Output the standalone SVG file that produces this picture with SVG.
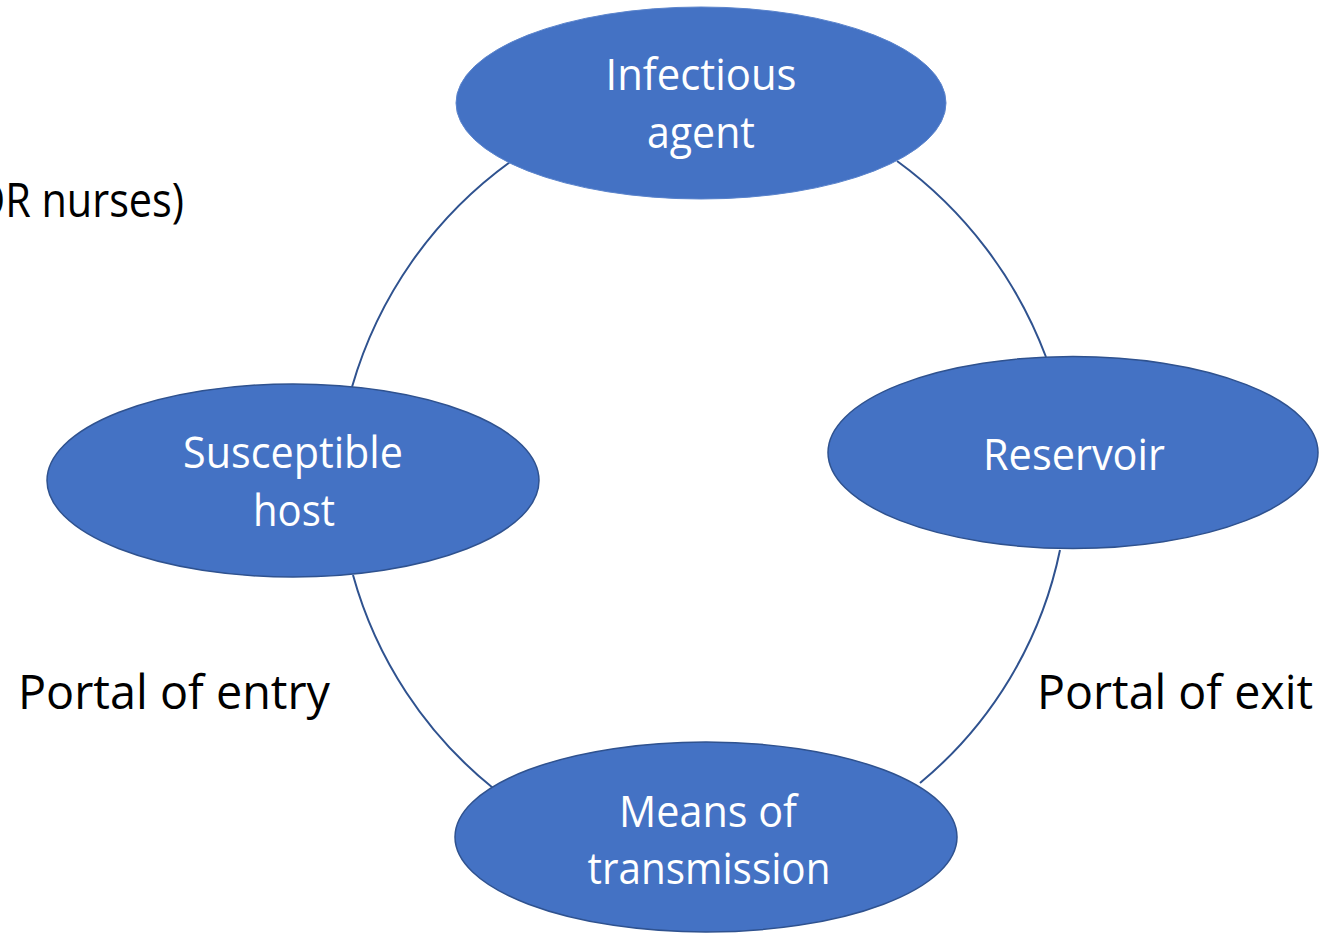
<svg xmlns="http://www.w3.org/2000/svg" width="1340" height="933" viewBox="0 0 1340 933">
  <style>
    .node { fill: #4472C4; stroke: #2F528F; stroke-width: 1.5; }
    .node-top { fill: #4472C4; stroke: #5B84CC; stroke-width: 1; }
    .conn { fill: none; stroke: #2F528F; stroke-width: 2; }
    .wt { font-family: "Open Sans", "Noto Sans", sans-serif; font-size: 44px; fill: #FFFFFF; text-anchor: middle; }
    .bt { font-family: "Open Sans", "Noto Sans", sans-serif; font-size: 48px; fill: #000000; }
  </style>
  <rect x="0" y="0" width="1340" height="933" fill="#FFFFFF"/>
  <g id="connectors">
    <path class="conn" d="M 510 162 A 422 422 0 0 0 352 387"/>
    <path class="conn" d="M 897 161 A 429 429 0 0 1 1046 357"/>
    <path class="conn" d="M 1060 550 A 410 410 0 0 1 920 783"/>
    <path class="conn" d="M 353 575 A 416 416 0 0 0 493 788"/>
  </g>
  <g id="node-infectious-agent">
    <ellipse class="node-top" cx="701" cy="103" rx="245" ry="96"/>
    <text class="wt" x="701" y="90" textLength="191" lengthAdjust="spacingAndGlyphs">Infectious</text>
    <text class="wt" x="701" y="148" textLength="108" lengthAdjust="spacingAndGlyphs">agent</text>
  </g>
  <g id="node-reservoir">
    <ellipse class="node" cx="1073" cy="452.5" rx="245" ry="96"/>
    <text class="wt" x="1074" y="470" textLength="182" lengthAdjust="spacingAndGlyphs">Reservoir</text>
  </g>
  <g id="node-means">
    <ellipse class="node" cx="706" cy="837" rx="251" ry="95"/>
    <text class="wt" x="708" y="827" textLength="178" lengthAdjust="spacingAndGlyphs">Means of</text>
    <text class="wt" x="709" y="884" textLength="243" lengthAdjust="spacingAndGlyphs">transmission</text>
  </g>
  <g id="node-susceptible-host">
    <ellipse class="node" cx="293" cy="480.5" rx="246" ry="96.5"/>
    <text class="wt" x="293" y="468" textLength="220" lengthAdjust="spacingAndGlyphs">Susceptible</text>
    <text class="wt" x="294" y="526" textLength="82" lengthAdjust="spacingAndGlyphs">host</text>
  </g>
  <g id="labels">
    <text class="bt" x="18" y="709" textLength="312" lengthAdjust="spacingAndGlyphs">Portal of entry</text>
    <text class="bt" x="1037" y="709" textLength="276" lengthAdjust="spacingAndGlyphs">Portal of exit</text>
    <text class="bt" x="-27" y="217" textLength="211" lengthAdjust="spacingAndGlyphs">OR nurses)</text>
  </g>
</svg>
